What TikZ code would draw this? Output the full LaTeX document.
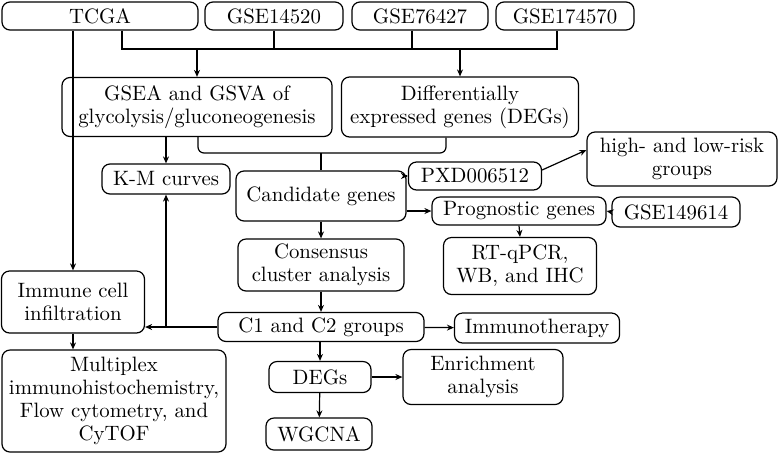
\documentclass[tikz,border=0pt]{standalone}
\usetikzlibrary{arrows.meta, positioning}

\begin{document}
\begin{tikzpicture}[x=0.5pt, y=-0.5pt, semithick, >={Stealth[length=3.5pt,width=3pt]},
    box/.style={draw, rounded corners=4pt, align=center, inner sep=0pt,
        font=\fontsize{10.4}{11.5}\selectfont},
    bw/.style 2 args={minimum width=#1*0.5pt, minimum height=#2*0.5pt}]
    \useasboundingbox (0,0) rectangle (779,456);

    % sources
    \node[box, bw={196}{28}] (tcga)    at (100,16)  {TCGA};
    \node[box, bw={138}{28}] (g14520)  at (274,16)  {GSE14520};
    \node[box, bw={136}{28}] (g76427)  at (420,16)  {GSE76427};
    \node[box, bw={138}{28}] (g174570) at (565,16)  {GSE174570};

    % first analyses
    \node[box, bw={270}{59}] (gsea) at (197,107) {GSEA and GSVA of\\glycolysis/gluconeogenesis};
    \node[box, bw={237}{60}] (degs) at (460,107) {Differentially\\expressed genes (DEGs)};

    \node[box, bw={128}{30}] (km)    at (166,179) {K-M curves};
    \node[box, bw={170}{50}] (cand)  at (321,196) {Candidate genes};
    \node[box, bw={133}{28}] (pxd)   at (475,176) {PXD006512};
    \node[box, bw={190}{54}] (risk)  at (682,159) {high- and low-risk\\groups};
    \node[box, bw={174}{28}] (prog)  at (519,211) {Prognostic genes};
    \node[box, bw={128}{30}] (g149614) at (676,212) {GSE149614};
    \node[box, bw={153}{57}] (rt)    at (520,266) {RT-qPCR,\\WB,\ and IHC};
    \node[box, bw={166}{52}] (cons)  at (321,265) {Consensus\\cluster analysis};

    \node[box, bw={143}{62}]  (immune) at (73,302)  {Immune cell\\infiltration};
    \node[box, bw={206}{29}]  (c1c2)   at (321,327) {C1 and C2 groups};
    \node[box, bw={165}{30}]  (immuno) at (537,328) {Immunotherapy};
    \node[box, bw={224}{102}] (multi)  at (114,401) {Multiplex\\immunohistochemistry,\\Flow cytometry, and\\CyTOF};
    \node[box, bw={102}{31}]  (degs2)  at (320,377) {DEGs};
    \node[box, bw={160}{55}]  (enrich) at (483,377) {Enrichment\\analysis};
    \node[box, bw={106}{32}]  (wgcna)  at (319,434) {WGCNA};

    % bus from the datasets
    \coordinate (bus) at (0,49);
    \draw (tcga.south -| 122,0) |- (bus -| 557,0) -- (g174570.south -| 557,0);
    \draw (g14520.south) -- (g14520.south |- bus);
    \draw (g76427.south -| 412,0) -- (bus -| 412,0);
    \draw[->] (bus -| gsea) -- (gsea.north);
    \draw[->] (bus -| degs) -- (degs.north);

    % brace into candidate genes
    \coordinate (brace) at (321,153);
    \draw[rounded corners=3pt] (gsea.south -| 198,0) |- (brace) -| (degs.south -| 446,0);
    \draw (brace) -- (cand.north);

    \draw[->] (tcga.south -| immune) -- (immune.north);
    \draw[->] (gsea.south -| km) -- (km.north);
    \draw[->] (cand.east |- pxd) -- (pxd.west);
    \draw[->] (cand.east |- prog) -- (prog.west);
    \draw[->] (pxd.east |- 0,170) -- (risk.west |- 0,150);
    \draw[->] (g149614.west) -- (prog.east);
    \draw[->] (prog.south) -- (rt.north);
    \draw[->] (cand) -- (cons);
    \draw[->] (cons) -- (c1c2);
    \draw[->] (c1c2.west) -- (immune.east |- c1c2);
    \draw[->] (c1c2.west -| km) -- (km.south);
    \draw[->] (c1c2) -- (immuno);
    \draw[->] (immune) -- (immune |- multi.north);
    \draw[->] (c1c2.south -| degs2) -- (degs2.north);
    \draw[->] (degs2) -- (enrich);
    \draw[->] (degs2) -- (wgcna);
\end{tikzpicture}
\end{document}
